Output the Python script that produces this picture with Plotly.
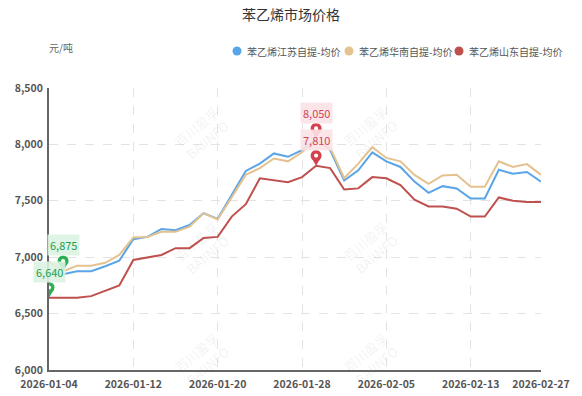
import plotly.graph_objects as go

dates = ["2026-01-04","2026-01-05","2026-01-06","2026-01-07","2026-01-08","2026-01-09",
         "2026-01-12","2026-01-13","2026-01-14","2026-01-15","2026-01-16",
         "2026-01-19","2026-01-20","2026-01-21","2026-01-22","2026-01-23",
         "2026-01-26","2026-01-27","2026-01-28","2026-01-29","2026-01-30",
         "2026-02-02","2026-02-03","2026-02-04","2026-02-05","2026-02-06",
         "2026-02-09","2026-02-10","2026-02-11","2026-02-12","2026-02-13","2026-02-14",
         "2026-02-24","2026-02-25","2026-02-26","2026-02-27"]

jiangsu = [6860, 6850, 6875, 6875, 6920, 6970, 7160, 7180, 7250, 7240, 7285,
           7390, 7340, 7550, 7765, 7830, 7920, 7890, 7950, 8050, 7950,
           7680, 7770, 7930, 7850, 7800, 7670, 7570, 7630, 7610, 7520, 7520,
           7775, 7740, 7755, 7670]
huanan = [6960, 6875, 6925, 6925, 6950, 7020, 7175, 7180, 7225, 7225, 7270,
          7390, 7335, 7530, 7730, 7790, 7875, 7850, 7930, 8040, 7970,
          7700, 7830, 7975, 7880, 7850, 7730, 7650, 7725, 7730, 7625, 7625,
          7850, 7800, 7825, 7730]
shandong = [6640, 6640, 6640, 6655, 6700, 6750, 6975, 7000, 7020, 7080, 7080,
            7170, 7180, 7360, 7470, 7700, 7685, 7665, 7710, 7810, 7790,
            7600, 7610, 7710, 7700, 7640, 7510, 7450, 7450, 7430, 7360, 7360,
            7530, 7500, 7490, 7490]

series_names = ["苯乙烯江苏自提-均价", "苯乙烯华南自提-均价", "苯乙烯山东自提-均价"]
series_values = [jiangsu, huanan, shandong]
series_colors = ["#5aa5e8", "#e4c28f", "#c0504d"]

tick_dates = ["2026-01-04", "2026-01-12", "2026-01-20", "2026-01-28",
              "2026-02-05", "2026-02-13", "2026-02-27"]
y_ticks = [6000, 6500, 7000, 7500, 8000, 8500]

# pins: (series index, kind)
pins = [(0, "max"), (2, "max"), (1, "min"), (2, "min")]

title_text = "苯乙烯市场价格"
unit_text = "元/吨"

FONT_CJK = "Noto Sans CJK SC"

fig = go.Figure()
for name, vals, col in zip(series_names, series_values, series_colors):
    fig.add_trace(go.Scatter(x=dates, y=vals, mode="lines", name=name,
                             line=dict(color=col, width=2), showlegend=False,
                             hoverinfo="x+y"))

shapes = []
annotations = []

PIN_COL = {"max": "#d3404e", "min": "#27b150"}
LBL_COL = {"max": "#d0465a", "min": "#25a04c"}
LBL_BG = {"max": "rgba(252,226,229,0.9)", "min": "rgba(220,243,226,0.9)"}

for si, kind in pins:
    vals = series_values[si]
    v = max(vals) if kind == "max" else min(vals)
    i = vals.index(v)
    xd = dates[i]
    c = PIN_COL[kind]
    common = dict(xref="x", yref="y", xsizemode="pixel", ysizemode="pixel",
                  xanchor=xd, yanchor=v, layer="above")
    shapes.append(dict(type="path", path="M -3.8 6.5 L 0 0 L 3.8 6.5 Z",
                       fillcolor=c, line=dict(width=0), **common))
    shapes.append(dict(type="circle", x0=-5.5, x1=5.5, y0=4.8, y1=15.8,
                       fillcolor=c, line=dict(width=0), **common))
    shapes.append(dict(type="circle", x0=-2.1, x1=2.1, y0=8.2, y1=12.4,
                       fillcolor="white", line=dict(width=0), **common))
    annotations.append(dict(x=xd, y=v, xref="x", yref="y", text=f"{v:,}",
                            showarrow=False, yshift=26,
                            font=dict(family=FONT_CJK, size=11, color=LBL_COL[kind]),
                            bgcolor=LBL_BG[kind], borderpad=2))

# custom legend (plot area: x 49..541, y 88..370)
def px_x(X):
    return (X - 49) / 492.0

def px_y(Y):
    return (370 - Y) / 282.0

leg_circle_x = [237, 349, 459]
for name, col, cx in zip(series_names, series_colors, leg_circle_x):
    shapes.append(dict(type="circle", xref="paper", yref="paper",
                       xsizemode="pixel", ysizemode="pixel",
                       xanchor=px_x(cx), yanchor=px_y(51),
                       x0=-4.5, x1=4.5, y0=-4.5, y1=4.5,
                       fillcolor=col, line=dict(width=0)))
    annotations.append(dict(x=px_x(cx + 8), y=px_y(51), xref="paper", yref="paper",
                            xanchor="left", yanchor="middle", showarrow=False,
                            text=name, font=dict(family=FONT_CJK, size=10, color="#555555")))

annotations.append(dict(x=px_x(61), y=px_y(47), xref="paper", yref="paper",
                        xanchor="center", yanchor="middle", showarrow=False,
                        text=unit_text, font=dict(family=FONT_CJK, size=10, color="#666666")))

# watermarks
for X, Y in [(168, 100), (405, 100), (168, 248), (405, 248), (168, 392), (405, 392)]:
    annotations.append(dict(x=px_x(X), y=px_y(Y), xref="paper", yref="paper",
                            showarrow=False, textangle=-40,
                            text="百川盈孚<br>BAIINFO",
                            font=dict(family=FONT_CJK, size=13, color="rgba(120,120,120,0.10)")))

fig.update_layout(
    width=582, height=396,
    margin=dict(l=49, r=41, t=88, b=26, autoexpand=False),
    paper_bgcolor="white", plot_bgcolor="white",
    title=dict(text=title_text, x=0.5, xanchor="center", y=1 - 15 / 396, yanchor="middle",
               font=dict(family=FONT_CJK, size=14, color="#333333")),
    showlegend=False,
    shapes=shapes, annotations=annotations,
    xaxis=dict(type="category", categoryorder="array", categoryarray=dates,
               range=[0, len(dates) - 1], tickmode="array", tickvals=tick_dates,
               ticktext=tick_dates, showgrid=True, gridcolor="#e3e3e3", griddash="dash",
               gridwidth=1, showline=True, linecolor="#666666", linewidth=2,
               ticks="", ticklabelstandoff=3,
               tickfont=dict(family=FONT_CJK, size=10.5, color="#555555", weight="bold"),
               zeroline=False, fixedrange=True, automargin=False),
    yaxis=dict(range=[6000, 8500], tickmode="array", tickvals=y_ticks, tickformat=",",
               showgrid=True, gridcolor="#e3e3e3", griddash="dash", gridwidth=1,
               showline=True, linecolor="#666666", linewidth=2, ticks="",
               ticklabelstandoff=2,
               tickfont=dict(family=FONT_CJK, size=10.5, color="#555555", weight="bold"),
               zeroline=False, fixedrange=True, automargin=False),
    font=dict(family=FONT_CJK),
)

fig.write_html("out.html", config={"displayModeBar": False},
               post_script="document.body.style.margin='0';document.body.style.padding='0';document.body.style.overflow='hidden';")
